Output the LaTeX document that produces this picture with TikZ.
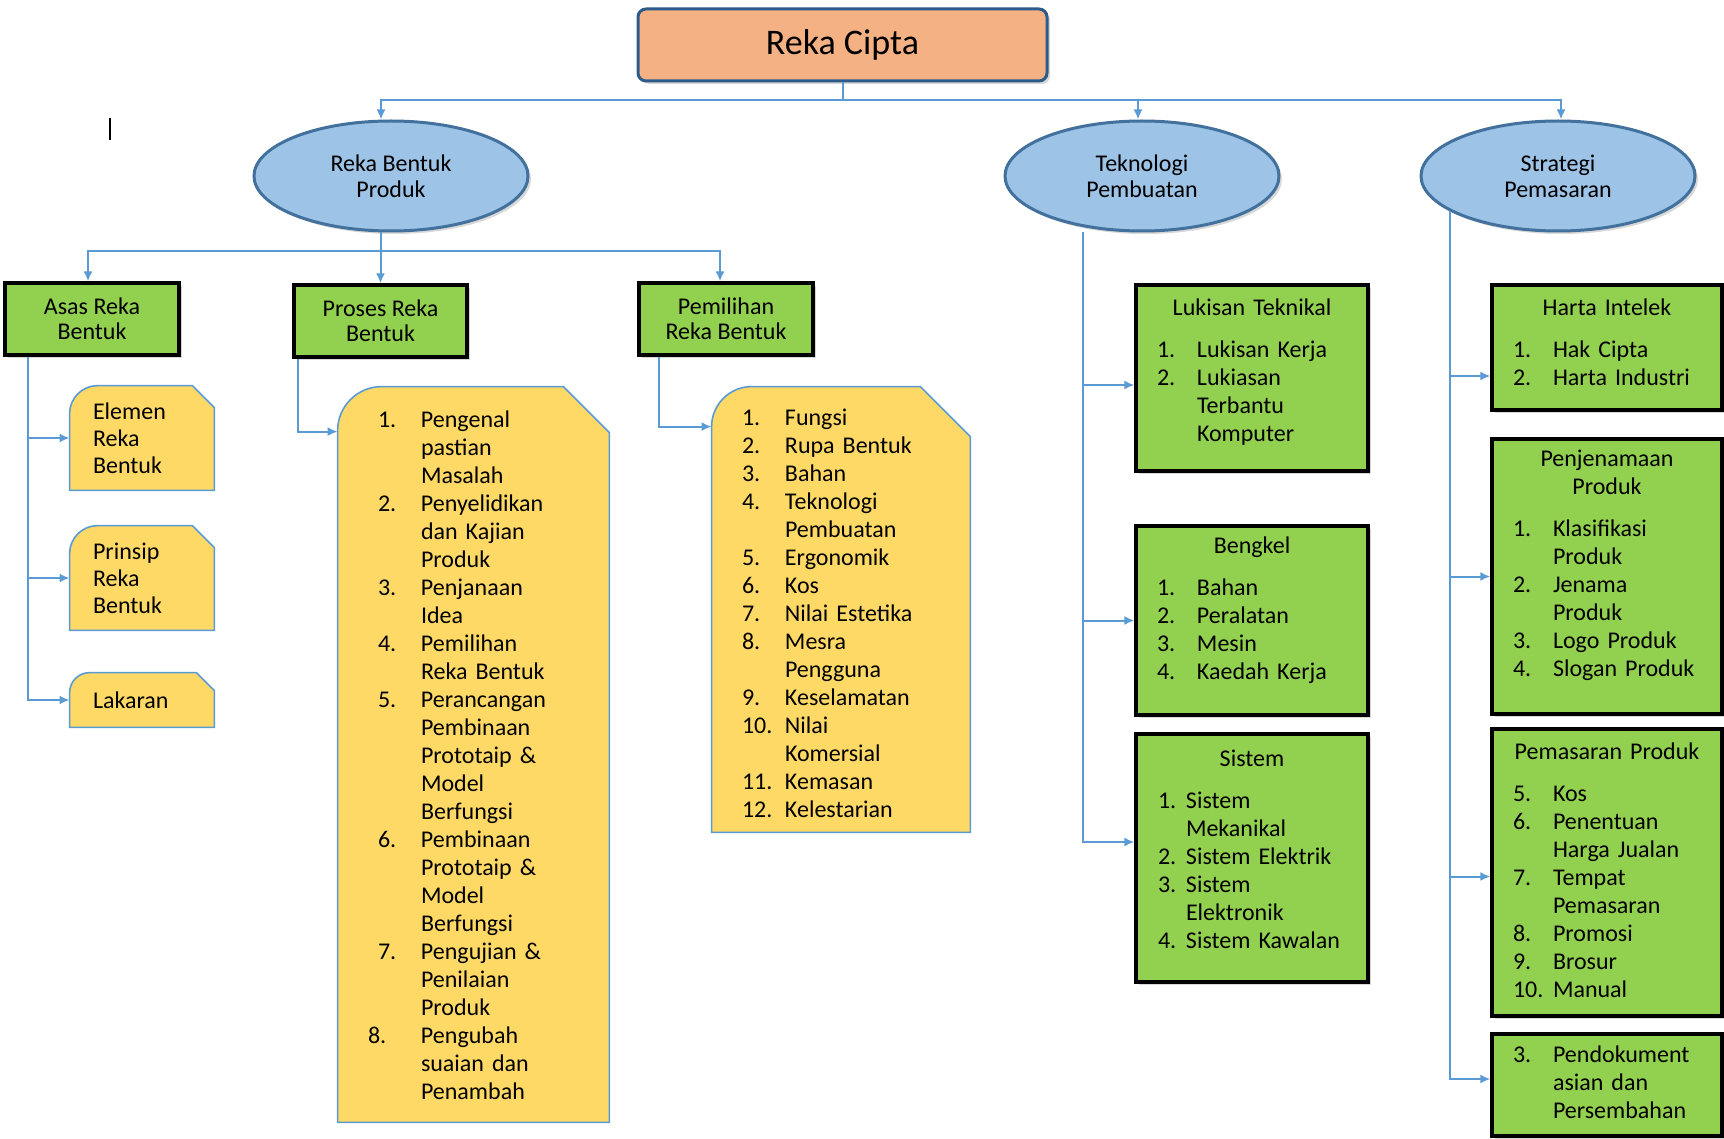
\documentclass[tikz,border=0pt]{standalone}
\usepackage{fontspec}
\setmainfont{Carlito}
\usetikzlibrary{arrows.meta,positioning,shapes.geometric,shadows,backgrounds}
\definecolor{titlefill}{HTML}{F4B183}
\definecolor{titleline}{HTML}{2E5C8A}
\definecolor{ovalfill}{HTML}{9DC3E6}
\definecolor{ovalline}{HTML}{41719C}
\definecolor{gboxfill}{HTML}{92D050}
\definecolor{yboxfill}{HTML}{FFD966}
\definecolor{linkblue}{HTML}{5B9BD5}
\newcommand{\boxhead}[2]{\multicolumn{2}{@{}c@{}}{\makebox[#1]{#2}}}

\begin{document}
\begin{tikzpicture}[x=0.5pt,y=-0.5pt,
  softshadow/.style={drop shadow={shadow xshift=1.5pt,shadow yshift=-1.5pt,opacity=0.3}},
  conn/.style={draw=linkblue,line width=1pt,-{Latex[length=5pt,width=4.5pt]}},
  oval/.style={ellipse,draw=ovalline,fill=ovalfill,line width=1.5pt,softshadow,align=center,
    minimum width=137pt,minimum height=55pt,inner sep=0pt,font=\fontsize{12}{13}\selectfont},
  headbox/.style={draw=black,fill=gboxfill,line width=1.6pt,softshadow,align=center,
    minimum width=87pt,minimum height=36pt,inner sep=0pt,font=\fontsize{12}{12.5}\selectfont},
  listbox/.style={draw=black,fill=gboxfill,line width=1.6pt,softshadow,align=left,
    inner ysep=0pt,font=\fontsize{12}{14}\selectfont},
  ybox/.style={align=left,inner ysep=0pt,font=\fontsize{12}{14}\selectfont},
  yshape/.style={draw=linkblue,fill=yboxfill,line width=0.8pt}]
  \useasboundingbox (0,0) rectangle (1724,1139);

  % top
  \node[draw=titleline,fill=titlefill,rounded corners=4pt,line width=1.5pt,softshadow,
    minimum width=204.5pt,minimum height=36pt,font=\fontsize{18}{20}\selectfont] (cipta) at (842.5,45) {Reka Cipta};
  \draw[line width=0.8pt] (110,118) -- (110,140);

  \node[oval] (rbp) at (391,176) {Reka Bentuk\\Produk};
  \node[oval] (tp) at (1142,176) {Teknologi\\Pembuatan};
  \node[oval] (sp) at (1558,176) {Strategi\\Pemasaran};

  \draw[conn] (cipta.south) -- ++(0,18) -| ([xshift=-5pt]rbp.north);
  \draw[conn] (cipta.south) -- ++(0,18) -| ([xshift=-2pt]tp.north);
  \draw[conn] (cipta.south) -- ++(0,18) -| ([xshift=1.5pt]sp.north);

  % reka bentuk produk
  \node[headbox] (asas) at (92,319) {Asas Reka\\Bentuk};
  \node[headbox,minimum width=86.5pt] (proses) at (380.5,321) {Proses Reka\\Bentuk};
  \node[headbox] (pilih) at (726,319) {Pemilihan\\Reka Bentuk};

  \draw[conn] ([xshift=-5pt]rbp.south) -- ++(0,19) -| ([xshift=-2pt]asas.north);
  \draw[conn] ([xshift=-5pt]rbp.south) -- ++(0,19) -| (proses.north);
  \draw[conn] ([xshift=-5pt]rbp.south) -- ++(0,19) -| ([xshift=-3pt]pilih.north);

  \node[ybox,text width=49pt,inner xsep=11.5pt,minimum height=52pt,font=\fontsize{12}{13.5}\selectfont] (elem) at (142,438) {Elemen\\Reka\\Bentuk};
  \node[ybox,text width=49pt,inner xsep=11.5pt,minimum height=52pt,font=\fontsize{12}{13.5}\selectfont] (prin) at (142,578) {Prinsip\\Reka\\Bentuk};
  \node[ybox,text width=49pt,inner xsep=11.5pt,minimum height=27pt] (lak) at (142,700) {Lakaran};

  \node[ybox,text width=95.5pt,inner xsep=20pt,minimum height=367.5pt] (plist) at (473.5,754.5) {%
    \begin{tabular}{@{}p{21.5pt}@{}l@{}}
      1. & Pengenal\\ & pastian\\ & Masalah\\
      2. & Penyelidikan\\ & dan Kajian\\ & Produk\\
      3. & Penjanaan\\ & Idea\\
      4. & Pemilihan\\ & Reka Bentuk\\
      5. & Perancangan\\ & Pembinaan\\ & Prototaip \&\\ & Model\\ & Berfungsi\\
      6. & Pembinaan\\ & Prototaip \&\\ & Model\\ & Berfungsi\\
      7. & Pengujian \&\\ & Penilaian\\ & Produk\\
      \hspace*{-5pt}8. & Pengubah\\ & suaian dan\\ & Penambah\\[-3pt]
    \end{tabular}};
  \node[ybox,text width=99pt,inner xsep=15pt,minimum height=222.5pt] (slist) at (841,609.5) {%
    \begin{tabular}{@{}p{21.5pt}@{}l@{}}
      1. & Fungsi\\ 2. & Rupa Bentuk\\ 3. & Bahan\\
      4. & Teknologi\\ & Pembuatan\\
      5. & Ergonomik\\ 6. & Kos\\ 7. & Nilai Estetika\\
      8. & Mesra\\ & Pengguna\\
      9. & Keselamatan\\
      10. & Nilai\\ & Komersial\\
      11. & Kemasan\\ 12. & Kelestarian\\[-6pt]
    \end{tabular}};

  \begin{scope}[on background layer]
    \fill[white] (0,0) rectangle (1724,1139);
    \foreach \n/\r/\c in {elem/14pt/11pt,prin/14pt/11pt,lak/10pt/9pt,plist/22pt/23pt,slist/20pt/25pt}
      \filldraw[yshape] (\n.south west) -- ([yshift=-\r]\n.north west)
        .. controls ([yshift={-0.45*\r}]\n.north west) and ([xshift={0.45*\r}]\n.north west)
        .. ([xshift=\r]\n.north west)
        -- ([xshift=-\c]\n.north east) -- ([yshift=-\c]\n.north east)
        -- (\n.south east) -- cycle;
  \end{scope}

  \draw[conn] ([xshift=12.5pt]asas.south west) |- (elem.west);
  \draw[conn] ([xshift=12.5pt]asas.south west) |- (prin.west);
  \draw[conn] ([xshift=12.5pt]asas.south west) |- (lak.west);
  \draw[conn] ([xshift=3pt]proses.south west) |- ([yshift=-22.5pt]plist.north west);
  \draw[conn] ([xshift=11pt]pilih.south west) |- ([yshift=-20pt]slist.north west);

  % teknologi pembuatan
  \node[listbox,text width=95pt,inner xsep=10.5pt,minimum height=93pt] (lt) at (1252,378) {%
    \begin{tabular}{@{}p{20pt}@{}l@{}}
      \boxhead{95pt}{Lukisan Teknikal}\\[7pt]
      1. & Lukisan Kerja\\ 2. & Lukiasan\\ & Terbantu\\ & Komputer\\[5pt]
    \end{tabular}};
  \node[listbox,text width=95pt,inner xsep=10.5pt,minimum height=94.5pt] (bk) at (1252,620.5) {%
    \begin{tabular}{@{}p{20pt}@{}l@{}}
      \boxhead{95pt}{Bengkel}\\[7pt]
      1. & Bahan\\ 2. & Peralatan\\ 3. & Mesin\\ 4. & Kaedah Kerja\\[10pt]
    \end{tabular}};
  \node[listbox,text width=94pt,inner xsep=11pt,minimum height=124pt] (sis) at (1252,858) {%
    \begin{tabular}{@{}p{14pt}@{}l@{}}
      \boxhead{94pt}{Sistem}\\[7pt]
      1. & Sistem\\ & Mekanikal\\ 2. & Sistem Elektrik\\
      3. & Sistem\\ & Elektronik\\ 4. & Sistem Kawalan\\[6.5pt]
    \end{tabular}};

  \draw[conn] ([xshift=-29.5pt]tp.south) |- ([yshift=-3.5pt]lt.west);
  \draw[conn] ([xshift=-29.5pt]tp.south) |- (bk.west);
  \draw[conn] ([xshift=-29.5pt]tp.south) |- ([yshift=8pt]sis.west);

  % strategi pemasaran
  \node[listbox,text width=94pt,inner xsep=10.5pt,minimum height=62.5pt] (hi) at (1607,347.5) {%
    \begin{tabular}{@{}p{20pt}@{}l@{}}
      \boxhead{94pt}{Harta Intelek}\\[7pt]
      1. & Hak Cipta\\ 2. & Harta Industri\\[3pt]
    \end{tabular}};
  \node[listbox,text width=94pt,inner xsep=10.5pt,minimum height=137.5pt] (pj) at (1607,576.5) {%
    \begin{tabular}{@{}p{20pt}@{}l@{}}
      \boxhead{94pt}{Penjenamaan}\\ \boxhead{94pt}{Produk}\\[7pt]
      1. & Klasifikasi\\ & Produk\\ 2. & Jenama\\ & Produk\\
      3. & Logo Produk\\ 4. & Slogan Produk\\[11pt]
    \end{tabular}};
  \node[listbox,text width=94pt,inner xsep=10.5pt,minimum height=143.5pt] (pm) at (1607,872.5) {%
    \begin{tabular}{@{}p{20pt}@{}l@{}}
      \boxhead{94pt}{Pemasaran Produk}\\[7pt]
      5. & Kos\\ 6. & Penentuan\\ & Harga Jualan\\ 7. & Tempat\\ & Pemasaran\\
      8. & Promosi\\ 9. & Brosur\\ 10. & Manual
    \end{tabular}};
  \node[listbox,text width=94pt,inner xsep=10.5pt,minimum height=51pt] (pd) at (1607,1085) {%
    \begin{tabular}{@{}p{20pt}@{}l@{}}
      3. & Pendokument\\ & asian dan\\ & Persembahan
    \end{tabular}};

  \draw[conn] (sp.198) |- ([yshift=-14.25pt]hi.west);
  \draw[conn] (sp.198) |- (pj.west);
  \draw[conn] (sp.198) |- ([yshift=-2pt]pm.west);
  \draw[conn] (sp.198) |- ([yshift=3pt]pd.west);
\end{tikzpicture}
\end{document}
